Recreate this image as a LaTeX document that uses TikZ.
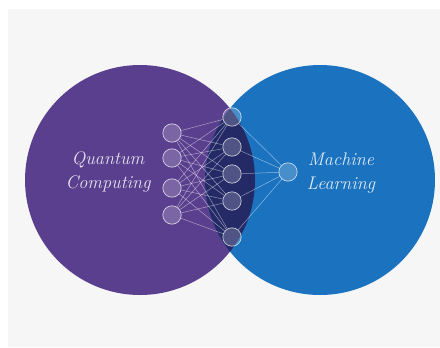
\documentclass[tikz,border=0pt]{standalone}
\usepackage{amsmath}

\definecolor{bggray}{HTML}{F6F6F6}
\definecolor{qcpurple}{HTML}{5A3F8E}
\definecolor{mlblue}{HTML}{1B72BF}
\definecolor{lensnavy}{HTML}{242A66}

\tikzset{
  neuron/.style={circle,minimum size=4.6mm,inner sep=0pt,draw=white,draw opacity=0.7,
    line width=0.5pt,fill=white,fill opacity=0.2,text opacity=1},
  link/.style={white,opacity=0.5,line width=0.35pt},
  hand/.style={align=center,font=\fontsize{13}{17}\selectfont\itshape}
}

\begin{document}
\begin{tikzpicture}[x=0.25mm,y=-0.25mm]
                \fill[white] (0,0) rectangle (440,347);
                \fill[bggray] (8,9) rectangle (440,347);
                \fill[qcpurple] (140,180) circle (115);
                \fill[mlblue] (320,180) circle (115);
                \begin{scope}
                    \clip (140,180) circle (115);
                    \fill[lensnavy] (320,180) circle (115);
                \end{scope}
                \foreach \n/\y in {1/133,2/158,3/188,4/215}{
                    \node[neuron] (q\n) at (172,\y) {};
                }
                \foreach \n/\y in {1/117,2/147,3/174,4/201,5/237}{
                    \node[neuron] (m\n) at (232,\y) {};
                }
                \node[neuron] (out) at (288,172) {};
                \foreach \i in {1,...,4}{
                    \foreach \j in {1,...,5}{
                        \draw[link] (q\i) -- (m\j);
                    }
                }
                \foreach \j in {1,...,5}{
                    \draw[link] (m\j) -- (out);
                }
                \node[hand,text=qcpurple!15] (qc) at (108,172) {Quantum\\Computing};
                \node[hand,text=mlblue!15] (ml) at (341,173) {Machine\\Learning};
            \end{tikzpicture}
\end{document}
